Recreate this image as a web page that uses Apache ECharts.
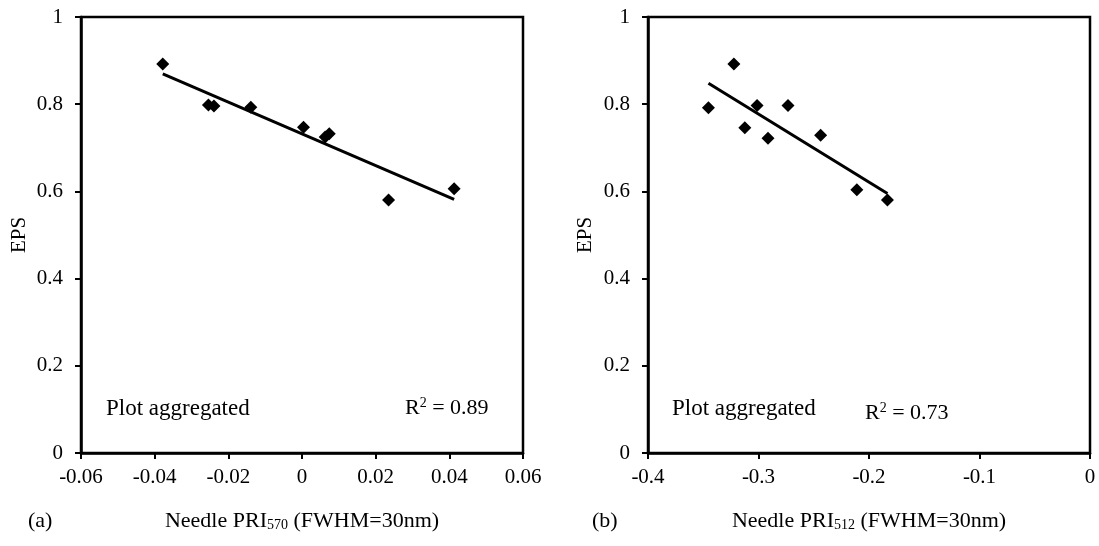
<!DOCTYPE html>
<html><head><meta charset="utf-8">
<script src="https://cdn.jsdelivr.net/npm/echarts@6/dist/echarts.min.js"></script>
<style>html,body{margin:0;padding:0;background:#fff}#c{width:1099px;height:546px}</style>
</head><body><div id="c"></div>
<script>
// Panel (a): Needle PRI570 vs EPS
const xA = [-0.0378, -0.0254, -0.0239, -0.0139, 0.0004, 0.0063, 0.0074, 0.0235, 0.0413];
const yA = [0.892, 0.798, 0.796, 0.793, 0.747, 0.725, 0.732, 0.580, 0.606];
// Panel (b): Needle PRI512 vs EPS
const xB = [-0.3453, -0.3223, -0.3124, -0.3013, -0.2914, -0.2733, -0.2438, -0.2110, -0.1833];
const yB = [0.792, 0.892, 0.746, 0.797, 0.722, 0.797, 0.729, 0.604, 0.580];
const r2Labels = ['0.89', '0.73'];
const yTicks = [0, 0.2, 0.4, 0.6, 0.8, 1];

function fit(xs, ys) {
  const n = xs.length;
  const mx = xs.reduce((a, b) => a + b, 0) / n;
  const my = ys.reduce((a, b) => a + b, 0) / n;
  let sxy = 0, sxx = 0;
  for (let i = 0; i < n; i++) { sxy += (xs[i] - mx) * (ys[i] - my); sxx += (xs[i] - mx) ** 2; }
  const b = sxy / sxx, a = my - b * mx;
  const x0 = Math.min(...xs), x1 = Math.max(...xs);
  return [[x0, a + b * x0], [x1, a + b * x1]];
}
const pairs = (xs, ys) => xs.map((x, i) => [x, ys[i]]);

const FONT = '"Liberation Serif", "Times New Roman", serif';
const txt = { color: '#000', fontFamily: FONT, fontSize: 21 };

function xAxisCfg(idx, min, max, interval) {
  return {
    gridIndex: idx, type: 'value', min, max, interval,
    axisLine: { onZero: false, lineStyle: { color: '#000', width: 2.5 } },
    axisTick: { length: 6, lineStyle: { color: '#000', width: 2 } },
    axisLabel: Object.assign({ margin: 14, formatter: v => String(+v.toFixed(2)) }, txt),
    splitLine: { show: false }
  };
}
function yAxisCfg(idx) {
  return {
    gridIndex: idx, type: 'value', min: 0, max: 1, interval: 0.2,
    axisLine: { onZero: false, lineStyle: { color: '#000', width: 2.5 } },
    axisTick: { length: 6, lineStyle: { color: '#000', width: 2 } },
    axisLabel: Object.assign({ margin: 18, formatter: v => String(+v.toFixed(1)) }, txt),
    splitLine: { show: false }
  };
}

const chart = echarts.init(document.getElementById('c'), null, { renderer: 'canvas' });
const rich = {
  a: { fontFamily: FONT, fontSize: 22, color: '#000' },
  sub: { fontFamily: FONT, fontSize: 14, color: '#000', padding: [9, 0, 0, 0] },
  sup: { fontFamily: FONT, fontSize: 14, color: '#000', padding: [0, 0, 9, 0] }
};
chart.setOption({
  animation: false,
  backgroundColor: '#fff',
  grid: [
    { left: 81, top: 17, width: 442, height: 436, show: true, borderColor: '#000', borderWidth: 2.5, backgroundColor: 'transparent' },
    { left: 648, top: 17, width: 442, height: 436, show: true, borderColor: '#000', borderWidth: 2.5, backgroundColor: 'transparent' }
  ],
  xAxis: [xAxisCfg(0, -0.06, 0.06, 0.02), xAxisCfg(1, -0.4, 0, 0.1)],
  yAxis: [yAxisCfg(0), yAxisCfg(1)],
  series: [
    { type: 'line', xAxisIndex: 0, yAxisIndex: 0, data: fit(xA, yA), showSymbol: false, lineStyle: { color: '#000', width: 3 }, z: 3 },
    { type: 'scatter', xAxisIndex: 0, yAxisIndex: 0, data: pairs(xA, yA), symbol: 'diamond', symbolSize: 13, itemStyle: { color: '#000', opacity: 1 }, z: 4 },
    { type: 'line', xAxisIndex: 1, yAxisIndex: 1, data: fit(xB, yB), showSymbol: false, lineStyle: { color: '#000', width: 3 }, z: 3 },
    { type: 'scatter', xAxisIndex: 1, yAxisIndex: 1, data: pairs(xB, yB), symbol: 'diamond', symbolSize: 13, itemStyle: { color: '#000', opacity: 1 }, z: 4 }
  ],
  graphic: [
    { type: 'text', x: 19, y: 235, rotation: Math.PI / 2, style: { text: 'EPS', fill: '#000', font: '21px ' + FONT, align: 'center', verticalAlign: 'middle' } },
    { type: 'text', x: 585, y: 235, rotation: Math.PI / 2, style: { text: 'EPS', fill: '#000', font: '21px ' + FONT, align: 'center', verticalAlign: 'middle' } },
    { type: 'text', x: 106, y: 409, style: { text: 'Plot aggregated', fill: '#000', font: '23px ' + FONT, verticalAlign: 'middle' } },
    { type: 'text', x: 672, y: 409, style: { text: 'Plot aggregated', fill: '#000', font: '23px ' + FONT, verticalAlign: 'middle' } },
    { type: 'text', x: 405, y: 408, style: { text: '{a|R}{sup|2}{a| = ' + r2Labels[0] + '}', rich, verticalAlign: 'middle' } },
    { type: 'text', x: 865, y: 413, style: { text: '{a|R}{sup|2}{a| = ' + r2Labels[1] + '}', rich, verticalAlign: 'middle' } },
    { type: 'text', x: 28, y: 521, style: { text: '(a)', fill: '#000', font: '22px ' + FONT, verticalAlign: 'middle' } },
    { type: 'text', x: 592, y: 521, style: { text: '(b)', fill: '#000', font: '22px ' + FONT, verticalAlign: 'middle' } },
    { type: 'text', x: 302, y: 521, style: { text: '{a|Needle PRI}{sub|570}{a| (FWHM=30nm)}', rich, align: 'center', verticalAlign: 'middle' } },
    { type: 'text', x: 869, y: 521, style: { text: '{a|Needle PRI}{sub|512}{a| (FWHM=30nm)}', rich, align: 'center', verticalAlign: 'middle' } }
  ]
});
</script></body></html>
